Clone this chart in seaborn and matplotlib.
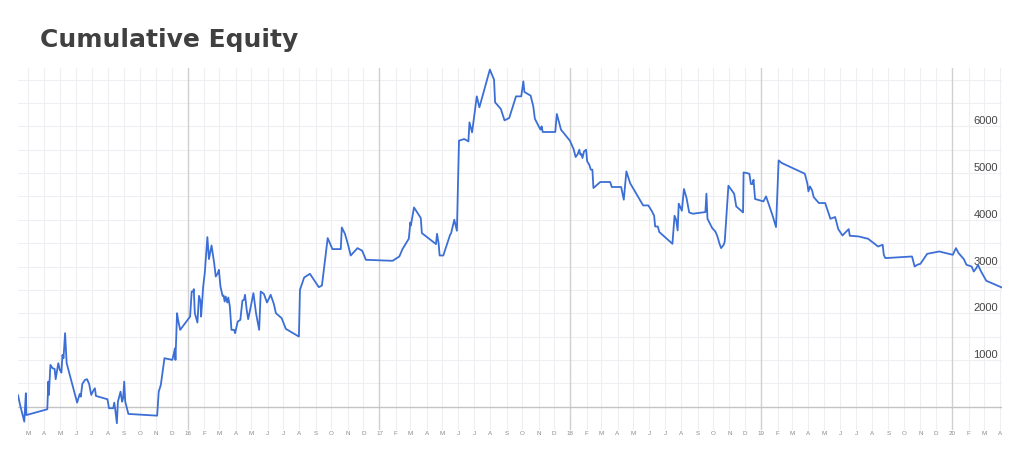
import pandas as pd
import numpy as np
import matplotlib
matplotlib.use("Agg")
import matplotlib.pyplot as plt
import seaborn as sns

# Dữ liệu (ngày, equity) theo từng năm
dates_2015 = ["2015-02-10", "2015-02-14", "2015-02-22", "2015-02-25", "2015-02-26",
              "2015-04-07", "2015-04-09", "2015-04-10", "2015-04-13", "2015-04-17", "2015-04-21", "2015-04-23", "2015-04-28",
              "2015-05-01", "2015-05-04", "2015-05-06", "2015-05-08", "2015-05-11", "2015-05-14",
              "2015-06-03", "2015-06-08", "2015-06-10", "2015-06-13", "2015-06-18", "2015-06-22", "2015-06-26", "2015-06-30",
              "2015-07-04", "2015-07-07", "2015-07-09", "2015-07-31",
              "2015-08-03", "2015-08-11", "2015-08-13", "2015-08-15", "2015-08-18", "2015-08-20", "2015-08-25", "2015-08-28", "2015-08-30",
              "2015-09-01", "2015-09-03", "2015-09-09",
              "2015-11-03", "2015-11-06", "2015-11-10", "2015-11-17",
              "2015-12-02", "2015-12-05", "2015-12-07", "2015-12-08", "2015-12-11", "2015-12-13", "2015-12-17"]
equity_2015 = [250, 36, -320, 287, -180,
               -56, 536, 250, 894, 823, 808, 587, 930,
               787, 729, 1108, 1037, 1573, 930,
               86, 272, 214, 486, 572, 587, 486, 251,
               343, 394, 229, 158,
               -34, -34, 86, -71, -356, 107, 321, 107, 180,
               536, 107, -156,
               -193, 321, 465, 1037,
               1001, 1144, 1251, 1001, 2001, 1858, 1644]

dates_2016 = ["2016-01-05", "2016-01-08", "2016-01-11", "2016-01-12", "2016-01-14", "2016-01-19", "2016-01-22", "2016-01-25", "2016-01-26", "2016-01-30",
              "2016-02-02", "2016-02-07", "2016-02-10", "2016-02-15", "2016-02-20", "2016-02-23", "2016-02-27", "2016-02-29",
              "2016-03-03", "2016-03-07", "2016-03-09", "2016-03-11", "2016-03-13", "2016-03-16", "2016-03-18", "2016-03-21", "2016-03-24", "2016-03-29", "2016-03-31",
              "2016-04-05", "2016-04-10", "2016-04-14", "2016-04-17", "2016-04-19", "2016-04-22", "2016-04-25", "2016-04-30",
              "2016-05-05", "2016-05-10", "2016-05-16", "2016-05-19", "2016-05-25", "2016-05-31",
              "2016-06-07", "2016-06-13", "2016-06-17", "2016-06-28",
              "2016-07-06", "2016-07-31",
              "2016-08-02", "2016-08-10", "2016-08-21",
              "2016-09-07", "2016-09-13", "2016-09-24",
              "2016-10-03", "2016-10-19", "2016-10-21", "2016-10-27",
              "2016-11-02", "2016-11-07", "2016-11-20", "2016-11-29",
              "2016-12-06"]
equity_2016 = [1929, 2464, 2464, 2516, 2001, 1800, 2372, 2250, 1929, 2572,
               2858, 3630, 3159, 3450, 3073, 2786, 2858, 2929,
               2572, 2372, 2379, 2250, 2357, 2229, 2336, 2143, 1644, 1644, 1573,
               1822, 1858, 2272, 2287, 2394, 2087, 1873, 2143,
               2430, 2001, 1644, 2464, 2415, 2229,
               2394, 2201, 2001, 1894,
               1665, 1500,
               2501, 2765, 2844,
               2558, 2593, 3609,
               3373, 3373, 3836, 3700,
               3465, 3236, 3394, 3337,
               3144]

dates_2017 = ["2017-01-26",
              "2017-02-08", "2017-02-14", "2017-02-26",
              "2017-03-01", "2017-03-02", "2017-03-08", "2017-03-21", "2017-03-23",
              "2017-04-19", "2017-04-21", "2017-04-24", "2017-04-26",
              "2017-05-03", "2017-05-16", "2017-05-18", "2017-05-24", "2017-05-29",
              "2017-06-02", "2017-06-12", "2017-06-20", "2017-06-22", "2017-06-27",
              "2017-07-06", "2017-07-11", "2017-07-31",
              "2017-08-08", "2017-08-10", "2017-08-21", "2017-08-28",
              "2017-09-06", "2017-09-19", "2017-09-29",
              "2017-10-03", "2017-10-05", "2017-10-17", "2017-10-22", "2017-10-25",
              "2017-11-03", "2017-11-05", "2017-11-07", "2017-11-09",
              "2017-12-03", "2017-12-06", "2017-12-14", "2017-12-31"]
equity_2017 = [3122,
               3215, 3373, 3594,
               3943, 3879, 4265, 4037, 3716,
               3480, 3701, 3501, 3236,
               3236, 3680, 3716, 4001, 3765,
               5694, 5730, 5679, 6086, 5872,
               6643, 6408, 7216,
               7001, 6515, 6373, 6129,
               6180, 6643, 6643,
               6965, 6737, 6658, 6429, 6165,
               5966, 5930, 6001, 5880,
               5880, 6266, 5930, 5694]

dates_2018 = ["2018-01-07", "2018-01-11", "2018-01-15", "2018-01-18", "2018-01-20", "2018-01-22", "2018-01-24", "2018-01-27", "2018-01-31",
              "2018-02-02", "2018-02-06", "2018-02-09", "2018-02-12", "2018-02-14", "2018-02-27",
              "2018-03-18", "2018-03-21",
              "2018-04-08", "2018-04-13", "2018-04-18", "2018-04-25",
              "2018-05-20", "2018-05-30",
              "2018-06-06", "2018-06-10", "2018-06-12", "2018-06-17", "2018-06-20",
              "2018-07-15", "2018-07-19", "2018-07-22", "2018-07-25", "2018-07-27", "2018-07-30",
              "2018-08-02", "2018-08-06", "2018-08-11", "2018-08-16", "2018-08-23",
              "2018-09-16", "2018-09-18", "2018-09-20", "2018-09-29",
              "2018-10-05", "2018-10-09", "2018-10-13", "2018-10-16", "2018-10-21", "2018-10-23", "2018-10-30",
              "2018-11-10", "2018-11-14", "2018-11-27", "2018-11-28",
              "2018-12-09", "2018-12-12", "2018-12-15", "2018-12-17", "2018-12-20"]
equity_2018 = [5516, 5344, 5408, 5501, 5394, 5408, 5323, 5465, 5501,
               5251, 5180, 5073, 5073, 4680, 4809,
               4809, 4702,
               4702, 4430, 5037, 4787,
               4308, 4308,
               4179, 4087, 3857, 3857, 3737,
               3487, 4087, 4001, 3772, 4344, 4273,
               4194, 4659, 4466, 4158, 4130,
               4166, 4558, 4022, 3823,
               3751, 3644, 3487, 3394, 3465, 3536, 4730,
               4558, 4286, 4158, 5015,
               4987, 4766, 4766, 4858, 4445]

dates_2019 = ["2019-01-05", "2019-01-10", "2019-01-23", "2019-01-29",
              "2019-02-03", "2019-02-09",
              "2019-03-25", "2019-03-30",
              "2019-04-01", "2019-04-04", "2019-04-08", "2019-04-11", "2019-04-21",
              "2019-05-03", "2019-05-13", "2019-05-22", "2019-05-28",
              "2019-06-05", "2019-06-17", "2019-06-19",
              "2019-07-06", "2019-07-24",
              "2019-08-12", "2019-08-21", "2019-08-23", "2019-08-26",
              "2019-10-16", "2019-10-21", "2019-10-26",
              "2019-11-01", "2019-11-14",
              "2019-12-07"]
equity_2019 = [4394, 4501, 4072, 3844,
               5272, 5216,
               4987, 4773,
               4608, 4715, 4629, 4487, 4359,
               4359, 4022, 4060, 3801,
               3665, 3801, 3658,
               3644, 3594,
               3429, 3465, 3251, 3180,
               3215, 3000, 3037,
               3058, 3272,
               3322]

dates_2020 = ["2020-01-02", "2020-01-08", "2020-01-13", "2020-01-23", "2020-01-28",
              "2020-02-07", "2020-02-11", "2020-02-16", "2020-02-19", "2020-02-25",
              "2020-03-06", "2020-04-05"]
equity_2020 = [3251, 3394, 3287, 3159, 3037,
               3000, 2893, 2966, 3037, 2893,
               2694, 2550]

y_ticks = [1000, 2000, 3000, 4000, 5000, 6000]
month_letters = ["J", "F", "M", "A", "M", "J", "J", "A", "S", "O", "N", "D"]

df = pd.DataFrame({
    "date": pd.to_datetime(dates_2015 + dates_2016 + dates_2017 + dates_2018 + dates_2019 + dates_2020),
    "equity": equity_2015 + equity_2016 + equity_2017 + equity_2018 + equity_2019 + equity_2020,
})

sns.set_style("white")
plt.rcParams["font.family"] = ["Liberation Sans", "DejaVu Sans"]

fig = plt.figure(figsize=(10.22, 4.62), dpi=100)
ax = fig.add_axes([18 / 1022, 32 / 462, 984 / 1022, 362 / 462])

# Lưới: tháng, năm, mỗi 500
months = pd.date_range("2015-03-01", "2020-04-01", freq="MS")
for m in months:
    if m.month == 1:
        ax.axvline(m, color="#d0d0d0", lw=1.0, zorder=1)
    else:
        ax.axvline(m, color="#efeff3", lw=0.8, zorder=0)
for v in np.arange(500, 7001, 500):
    ax.axhline(v, color="#efeff3", lw=0.8, zorder=0)
ax.axhline(0, color="#c4c4c4", lw=1.0, zorder=1)

sns.lineplot(data=df, x="date", y="equity", ax=ax, color="#3c6fd6",
             lw=1.3, estimator=None, sort=False, zorder=3)

ax.set_xlim(df["date"].min(), df["date"].max())
ax.set_ylim(-500, 7250)

ax.set_xticks(months)
ax.set_xticklabels([str(m.year % 100) if m.month == 1 else month_letters[m.month - 1] for m in months],
                   fontsize=4.5, color="#8a8a8a")
ax.tick_params(axis="x", length=0, pad=1)

ax.set_yticks(y_ticks)
ax.set_yticklabels([str(v) for v in y_ticks], fontsize=8, color="#444444")
ax.tick_params(axis="y", length=0, labelleft=False, labelright=True, pad=-3)
for lab in ax.get_yticklabels():
    lab.set_horizontalalignment("right")
    lab.set_verticalalignment("bottom")

ax.set_xlabel("")
ax.set_ylabel("")
for s in ax.spines.values():
    s.set_visible(False)

fig.text(40 / 1022, 1 - 47 / 462, "Cumulative Equity", family="DejaVu Sans",
         fontweight="bold", fontsize=18, color="#404040", va="baseline")

plt.savefig("out.png", dpi=100)
